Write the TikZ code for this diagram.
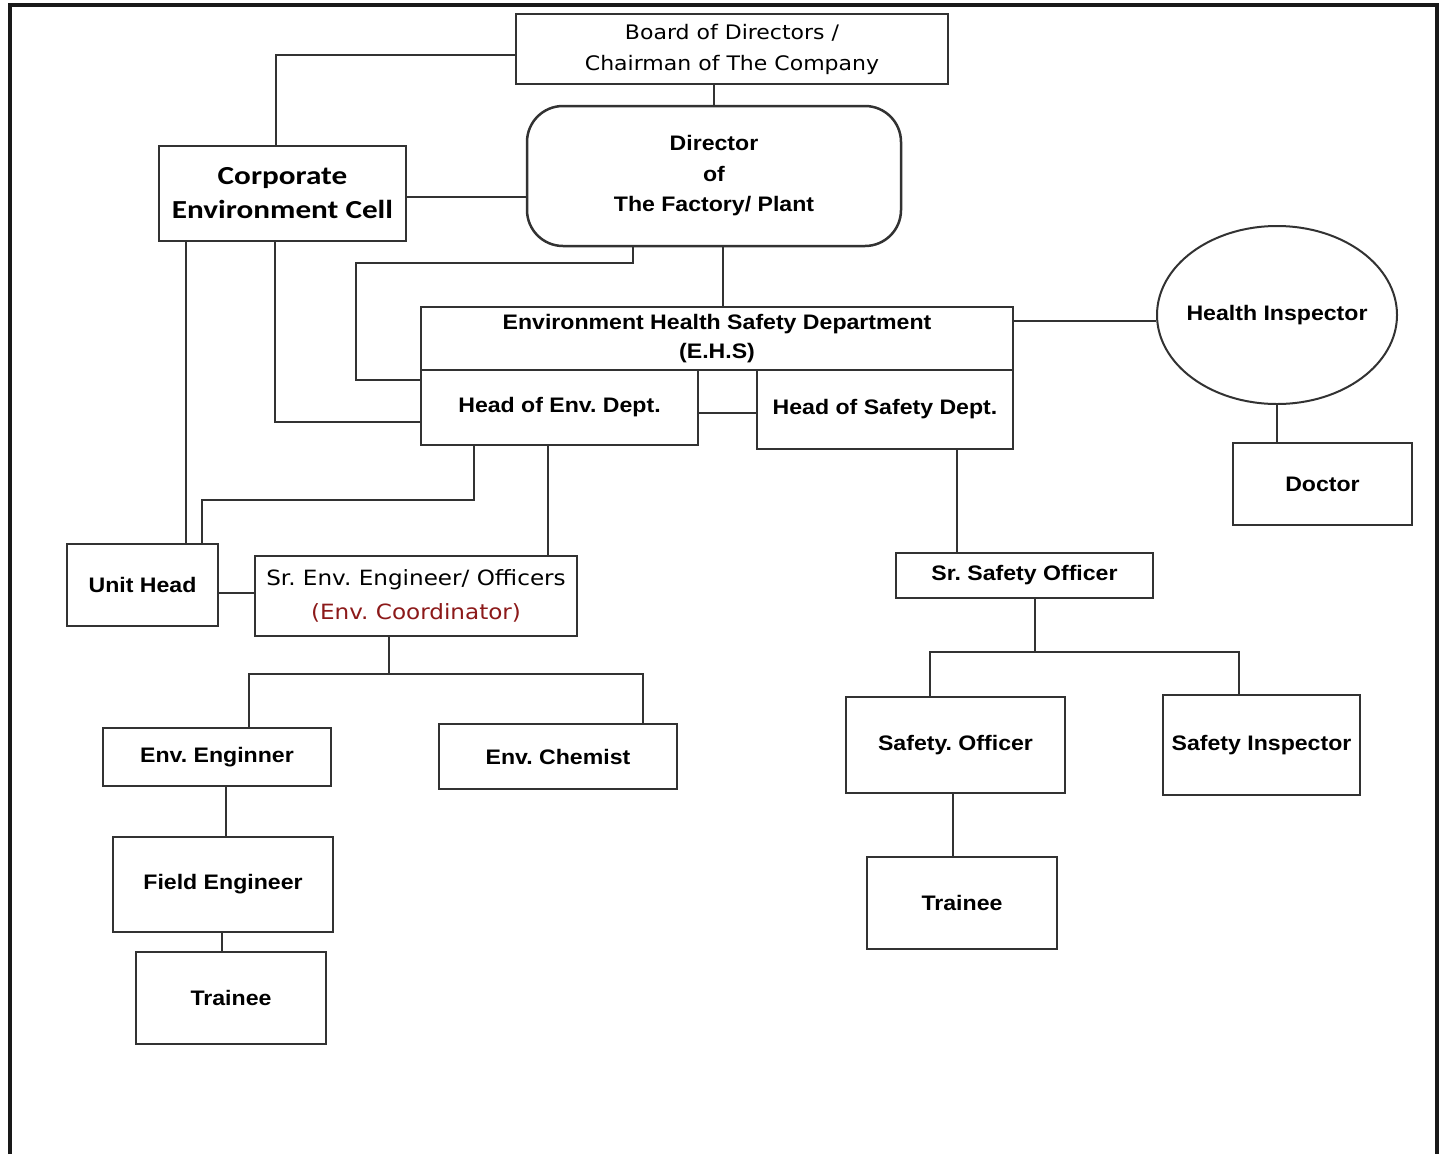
\documentclass[tikz,border=0pt]{standalone}
\usepackage{fontspec}
\setmainfont[FakeStretch=1.1]{Liberation Sans}
\newfontfamily\verdfont[FakeStretch=1.1]{DejaVu Sans}
\newfontfamily\califont[FakeStretch=1.2]{Carlito}
\usetikzlibrary{shapes.geometric}
\frenchspacing
\definecolor{boxgray}{RGB}{50,50,50}
\definecolor{coordred}{RGB}{140,25,25}
\tikzstyle{orgbox}=[rectangle,draw=boxgray,line width=2.5pt,fill=white,
                    inner sep=0pt,align=center,
                    font=\fontsize{21}{29}\selectfont\bfseries]
\tikzstyle{link}=[draw=boxgray,line width=2pt]

\begin{document}
\begin{tikzpicture}[x=1pt,y=-1pt]
    \useasboundingbox (0,0) rectangle (1447,1154);
    \draw[line width=4pt,draw=black!90] (10,1154) -- (10,5) -- (1437,5) -- (1437,1154);

    % top of the chart
    \node (board) at (732,49) [orgbox,minimum width=432pt,minimum height=70pt,
        font=\verdfont\fontsize{20}{31}\selectfont]
        {Board of Directors /\\Chairman of The Company};
    \node (director) at (714,176) [orgbox,rounded corners=36pt,
        minimum width=374pt,minimum height=140pt,
        font=\fontsize{21}{30.5}\selectfont\bfseries]
        {Director\\of\\The Factory/ Plant};
    \node (corpcell) at (282.5,193.5) [orgbox,minimum width=247pt,minimum height=95pt,
        font=\califont\fontsize{26}{34}\selectfont\bfseries]
        {Corporate\\Environment Cell};
    \node (ehs) at (717,338.5) [orgbox,minimum width=592pt,minimum height=63pt]
        {Environment Health Safety Department\\(E.H.S)};
    \node (headenv) at (559.5,407.5) [orgbox,minimum width=277pt,minimum height=75pt]
        {Head of Env. Dept.};
    \node (headsafety) at (885,409.5) [orgbox,minimum width=256pt,minimum height=79pt]
        {Head of Safety Dept.};
    \node (healthinsp) at (1277,315) [orgbox,ellipse,line width=2pt,inner sep=-7pt,
        minimum width=240pt,minimum height=178pt] {Health Inspector};
    \node (doctor) at (1322.5,484) [orgbox,minimum width=179pt,minimum height=82pt]
        {Doctor};

    % environment side
    \node (unithead) at (142.5,585) [orgbox,minimum width=151pt,minimum height=82pt]
        {Unit Head};
    \node (srenv) at (416,596) [orgbox,minimum width=322pt,minimum height=80pt,
        font=\verdfont\fontsize{21}{34}\selectfont]
        {Sr. Env. Engineer/ Officers\\\textcolor{coordred}{(Env. Coordinator)}};
    \node (envengr) at (217,757) [orgbox,minimum width=228pt,minimum height=58pt]
        {Env. Enginner};
    \node (envchem) at (558,756.5) [orgbox,minimum width=238pt,minimum height=65pt]
        {Env. Chemist};
    \node (fieldengr) at (223,884.5) [orgbox,minimum width=220pt,minimum height=95pt]
        {Field Engineer};
    \node (trainee1) at (231,998) [orgbox,minimum width=190pt,minimum height=92pt]
        {Trainee};

    % safety side
    \node (srsafety) at (1024.5,575.5) [orgbox,minimum width=257pt,minimum height=45pt]
        {Sr. Safety Officer};
    \node (safetyoff) at (955.5,745) [orgbox,minimum width=219pt,minimum height=96pt]
        {Safety. Officer};
    \node (safetyinsp) at (1261.5,745) [orgbox,minimum width=197pt,minimum height=100pt]
        {Safety Inspector};
    \node (trainee2) at (962,903) [orgbox,minimum width=190pt,minimum height=92pt]
        {Trainee};

    \coordinate (envjoint) at (389,674);
    \coordinate (safejoint) at (1035,652);

    % connectors
    \draw[link] ([yshift=-6pt]board.west) -| ([xshift=-6.5pt]corpcell.north);
    \draw[link] (board.south -| director.north) -- (director.north);
    \draw[link] ([yshift=-3.5pt]corpcell.east) -- ([yshift=-3.5pt]corpcell.east -| director.west);
    \draw[link] (director.south -| 633,0) -- (633,263) -| (356,380) -- (headenv.west |- 0,380);
    \draw[link] (director.south -| 723,0) -- (ehs.north -| 723,0);
    \draw[link] (corpcell.south -| 275,0) |- (headenv.west |- 0,422);
    \draw[link] (corpcell.south -| 186,0) -- (unithead.north -| 186,0);
    \draw[link] (headenv.south -| 474,0) |- (202,500) -- (unithead.north -| 202,0);
    \draw[link] (headenv.south -| 548,0) -- (srenv.north -| 548,0);
    \draw[link] (headenv.east |- 0,413) -- (headsafety.west |- 0,413);
    \draw[link] (ehs.east |- 0,321) -- (healthinsp.west |- 0,321);
    \draw[link] (healthinsp.south) -- (healthinsp.south |- doctor.north);
    \draw[link] (headsafety.south -| 957,0) -- (srsafety.north -| 957,0);
    \draw[link] (unithead.east |- 0,593) -- (srenv.west |- 0,593);
    \draw[link] (srenv.south -| envjoint) -- (envjoint);
    \draw[link] (envengr.north -| 249,0) |- (envjoint) -| (envchem.north -| 643,0);
    \draw[link] (srsafety.south -| safejoint) -- (safejoint);
    \draw[link] (safetyoff.north -| 930,0) |- (safejoint) -| (safetyinsp.north -| 1239,0);
    \draw[link] (envengr.south -| 226,0) -- (fieldengr.north -| 226,0);
    \draw[link] (fieldengr.south -| 222,0) -- (trainee1.north -| 222,0);
    \draw[link] (safetyoff.south -| 953,0) -- (trainee2.north -| 953,0);
\end{tikzpicture}
\end{document}
